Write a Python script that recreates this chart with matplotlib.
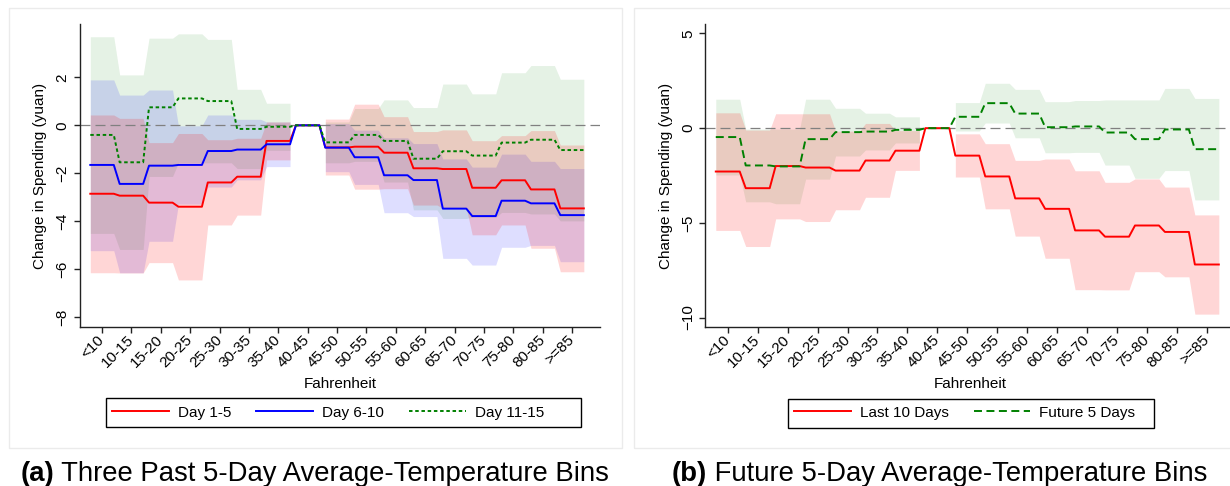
import numpy as np
import matplotlib
matplotlib.use("Agg")
import matplotlib.pyplot as plt
from matplotlib.patches import Rectangle
from matplotlib.lines import Line2D

plt.rcParams['font.family'] = ['Liberation Sans', 'DejaVu Sans']

W, H = 1230, 486

BINS = ["<10", "10-15", "15-20", "20-25", "25-30", "30-35", "35-40", "40-45",
        "45-50", "50-55", "55-60", "60-65", "65-70", "70-75", "75-80", "80-85", ">=85"]
nan = np.nan

# ---- panel (a): three past 5-day bins ----
d1_5 = [-2.85, -2.93, -3.22, -3.39, -2.38, -2.14, -0.65, 0, -0.92, -0.89, -1.14, -1.79, -1.82, -2.60, -2.29, -2.67, -3.46]
d1_5_lo = [-6.14, -6.15, -5.72, -6.44, -4.15, -3.74, -1.44, nan, -2.07, -2.66, -2.64, -3.32, -3.45, -4.56, -4.15, -5.12, -6.10]
d1_5_hi = [0.43, 0.29, -0.72, -0.34, -0.60, -0.54, 0.14, nan, 0.26, 0.88, 0.36, -0.26, -0.19, -0.64, -0.43, -0.22, -0.82]

d6_10 = [-1.65, -2.44, -1.68, -1.65, -1.07, -1.01, -0.79, 0, -0.93, -1.33, -2.08, -2.28, -3.47, -3.78, -3.14, -3.25, -3.74]
d6_10_lo = [-5.22, -6.14, -4.83, -3.28, -2.57, -2.27, -1.72, nan, -1.93, -2.46, -3.64, -3.80, -5.54, -5.82, -5.08, -5.00, -5.68]
d6_10_hi = [1.89, 1.26, 1.47, -0.02, 0.43, 0.25, 0.14, nan, 0.07, -0.20, -0.52, -0.76, -1.40, -1.74, -1.20, -1.50, -1.80]

d11_15 = [-0.40, -1.54, 0.75, 1.12, 1.01, -0.15, -0.06, 0, -0.71, -0.40, -0.65, -1.39, -1.08, -1.26, -0.72, -0.60, -1.03]
d11_15_lo = [-4.50, -5.17, -2.13, -1.56, -1.56, -1.80, -1.04, nan, -1.56, -1.50, -2.36, -3.52, -3.88, -3.83, -3.63, -3.69, -3.98]
d11_15_hi = [3.69, 2.10, 3.63, 3.81, 3.58, 1.50, 0.92, nan, 0.14, 0.70, 1.06, 0.74, 1.72, 1.31, 2.19, 2.49, 1.92]

# ---- panel (b): last 10 days vs future 5 days ----
last10 = [-2.29, -3.17, -2.00, -2.08, -2.24, -1.71, -1.19, 0, -1.45, -2.55, -3.71, -4.26, -5.40, -5.73, -5.14, -5.48, -7.20]
last10_lo = [-5.40, -6.25, -4.79, -4.93, -4.31, -3.65, -2.23, nan, -2.58, -4.26, -5.70, -6.87, -8.53, -8.54, -7.58, -7.85, -9.82]
last10_hi = [0.81, -0.10, 0.76, 0.76, -0.16, 0.25, -0.13, nan, -0.30, -0.82, -1.70, -1.63, -2.25, -2.86, -2.68, -3.11, -4.58]

fut5 = [-0.47, -1.97, -2.02, -0.58, -0.21, -0.18, -0.09, 0, 0.60, 1.32, 0.77, 0.05, 0.09, -0.23, -0.58, -0.07, -1.11]
fut5_lo = [-2.47, -3.89, -3.99, -2.69, -1.47, -1.15, -0.78, nan, -0.15, 0.27, -0.51, -1.30, -1.28, -1.95, -2.65, -2.24, -3.79]
fut5_hi = [1.53, -0.05, -0.05, 1.53, 1.05, 0.79, 0.60, nan, 1.35, 2.37, 2.05, 1.40, 1.46, 1.49, 1.49, 2.10, 1.57]

RED, BLUE, GREEN = "#ff0000", "#0000ff", "#008000"
DOT = (0, (1.8, 1.4))
DASH = (0, (4.1, 2.3))
LW = 1.4


def steps(v):
    v = np.asarray(v, dtype=float)
    x = np.repeat(np.arange(len(v)), 2) + np.tile([-0.4, 0.4], len(v))
    return x, np.repeat(v, 2)


def band(ax, lo, hi, color, alpha):
    x, l = steps(lo)
    _, h = steps(hi)
    for seg in (slice(0, 14), slice(16, 34)):
        ax.fill_between(x[seg], l[seg], h[seg], color=color, alpha=alpha, lw=0, zorder=1)


def style(ax, yticks, ylim):
    ax.set_xlim(-0.75, 16.95)
    ax.set_ylim(*ylim)
    ax.set_yticks(yticks)
    ax.set_xticks(range(len(BINS)))
    ax.set_xticklabels(BINS, rotation=45, ha="right", va="center", rotation_mode="anchor")
    for s in ("top", "right"):
        ax.spines[s].set_visible(False)
    for s in ("left", "bottom"):
        ax.spines[s].set_linewidth(1.0)
        ax.spines[s].set_color("#222222")
    ax.tick_params(axis="both", length=4.5, width=1.0, color="#222222", labelsize=11)
    ax.tick_params(axis="x", pad=3)
    ax.tick_params(axis="y", labelrotation=90, pad=3)
    for t in ax.get_yticklabels():
        t.set_va("center")
    ax.axhline(0, color="#808080", lw=0.9, ls=(0, (8, 4)), zorder=1.5)
    ax.set_ylabel("Change in Spending (yuan)", fontsize=11, labelpad=6)
    ax.set_xlabel("Fahrenheit", fontsize=11)
    ax.xaxis.set_label_coords(0.5, -0.165)


fig = plt.figure(figsize=(W / 100, H / 100), dpi=100)

# light graph-region frames
for (x0, y0, x1, y1) in ((9, 8, 622, 448), (634, 8, 1245, 448)):
    fig.add_artist(Rectangle((x0 / W, 1 - y1 / H), (x1 - x0) / W, (y1 - y0) / H,
                             transform=fig.transFigure, fill=False, ec="#ebebeb", lw=1))

# ---------------- panel (a) ----------------
axa = fig.add_axes([80 / W, 1 - 327 / H, 520 / W, 303 / H])
band(axa, d11_15_lo, d11_15_hi, GREEN, 0.10)
band(axa, d6_10_lo, d6_10_hi, BLUE, 0.13)
band(axa, d1_5_lo, d1_5_hi, RED, 0.16)
axa.plot(*steps(d1_5), color=RED, lw=LW, zorder=3)
axa.plot(*steps(d6_10), color=BLUE, lw=LW, zorder=3)
axa.plot(*steps(d11_15), color=GREEN, lw=LW, ls=DOT, zorder=3)
style(axa, [-8, -6, -4, -2, 0, 2], (-8.40, 4.22))

# ---------------- panel (b) ----------------
axb = fig.add_axes([705.3 / W, 1 - 327 / H, 530 / W, 303 / H])
band(axb, fut5_lo, fut5_hi, GREEN, 0.10)
band(axb, last10_lo, last10_hi, RED, 0.16)
axb.plot(*steps(last10), color=RED, lw=LW, zorder=3)
axb.plot(*steps(fut5), color=GREEN, lw=LW, ls=DASH, zorder=3)
style(axb, [-10, -5, 0, 5], (-10.50, 5.50))

# ---------------- legends ----------------
def legend(handles, labels, xl, box):
    fig.legend(handles, labels, loc="center left", bbox_to_anchor=(xl / W, 1 - 412.5 / H),
               frameon=False, ncol=len(labels), handlelength=3.7, handletextpad=0.6,
               columnspacing=1.65, fontsize=11, borderaxespad=0, borderpad=0)
    x0, y0, x1, y1 = box
    fig.add_artist(Rectangle((x0 / W, 1 - y1 / H), (x1 - x0) / W, (y1 - y0) / H,
                             transform=fig.transFigure, fill=False, ec="black", lw=1))

legend([Line2D([], [], color=RED, lw=LW), Line2D([], [], color=BLUE, lw=LW),
        Line2D([], [], color=GREEN, lw=LW, ls=DOT)],
       ["Day 1-5", "Day 6-10", "Day 11-15"], 112, (106, 398, 581, 427))
legend([Line2D([], [], color=RED, lw=LW), Line2D([], [], color=GREEN, lw=LW, ls=DASH)],
       ["Last 10 Days", "Future 5 Days"], 794, (787.5, 399, 1154, 428))

# ---------------- captions ----------------
def caption(x, tag, text):
    t = fig.text(x / W, 1 - 481 / H, tag, fontsize=19.8, fontweight="bold", ha="left", va="baseline")
    axa.annotate(text, xy=(1, 0), xycoords=t, fontsize=19.8, ha="left", va="bottom",
                 annotation_clip=False)

caption(20.5, "(a)", " Three Past 5-Day Average-Temperature Bins")
caption(672, "(b)", " Future 5-Day Average-Temperature Bins")

fig.savefig("out.png", dpi=100, facecolor="white")
